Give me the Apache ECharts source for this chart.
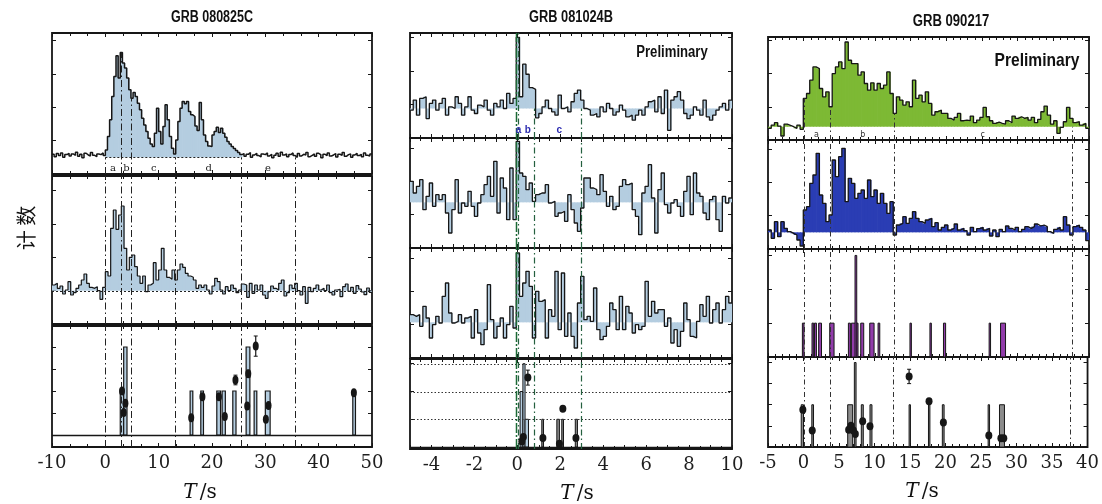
<!DOCTYPE html>
<html>
<head>
<meta charset="utf-8">
<script src="https://cdn.jsdelivr.net/npm/echarts@6/dist/echarts.min.js"></script>
<style>
  html, body { margin: 0; padding: 0; background: #ffffff; }
  #chart { width: 1102px; height: 504px; }
</style>
</head>
<body>
<div id="chart"></div>
<script>
// ===================== GRB 080825C =====================
const c1TopStart = -10, c1TopBin = 0.4, c1TopBase = 100;
const c1TopCounts = [
  118,104,122,110,126,100,116,124,108,120,112,130,106,118,98,124,114,108,128,112,104,120,116,126,110,
  144,224,324,464,584,708,574,728,664,634,574,504,454,488,464,424,384,334,294,254,214,180,164,244,394,
  254,180,284,414,324,224,154,120,204,314,394,434,420,434,374,354,344,288,260,428,324,234,194,168,164,
  234,254,280,248,274,244,220,194,180,164,152,140,128,116,
  122,106,118,128,100,114,124,110,102,120,116,126,108,118,98,112,124,106,130,114,
  120,104,116,126,110,100,122,108,118,114,128,104,112,120,106,124,116,98,118,110,
  126,108,114,122,102,118,112,128,106,116,120,100,114,124,110,118,104,126,112,108,120
];
const c1PulseFirst = 25, c1PulseLast = 88;   // bins of the shaded pulse
const c1PulseBaseFrom = 0, c1PulseBaseTo = 25.4;
const c1MidStart = -10, c1MidBin = 0.5, c1MidBase = 100;
const c1MidCounts = [
  117,122,107,114,90,102,127,87,94,107,117,132,150,122,110,107,112,100,74,110,
  157,144,287,342,284,327,354,227,162,200,207,172,144,122,144,97,117,122,184,132,
  162,227,162,140,134,162,132,162,180,170,152,144,140,132,107,117,110,117,102,90,
  114,137,127,102,90,112,100,117,107,94,102,
  120,117,80,122,92,117,102,117,87,77,97,114,107,102,122,132,84,94,117,107,
  122,100,87,112,62,110,97,107,117,102,107,100,117,94,87,102,104,82,112,120,
  98,110,92,115,105,96,88,108,95
];
const c1Bounds = [0, 2.9, 4.8, 13.1, 25.4, 35.6];
const c1Epochs = ['a', 'b', 'c', 'd', 'e'];
const c1EpochT = [1.44, 3.94, 9.07, 19.4, 30.5];
const c1BarFrom = [2.8, 3.44, 15.9, 17.9, 20.9, 21.9, 23.9, 26.4, 27.9, 30.0, 46.4];
const c1BarTo   = [3.44, 4.06, 16.4, 18.4, 21.6, 22.5, 24.5, 27.1, 28.4, 30.9, 46.9];
const c1BarN    = [1, 2, 1, 1, 1, 1, 1, 2, 1, 1, 1];
const c1DotT   = [3.13, 3.44, 3.76, 16.1, 18.2, 21.3, 22.4, 24.4, 26.6, 26.8, 28.2, 30.1, 30.6, 46.6];
const c1DotE   = [1.0, 0.51, 0.72, 0.39, 0.87, 0.87, 0.42, 1.25, 0.66, 1.39, 2.02, 0.36, 0.67, 0.96];
const c1DotErr = [0, 0, 0, 0, 0, 0, 0, 0.11, 0, 0.08, 0.23, 0, 0, 0];
const c1Ticks = [-10, 0, 10, 20, 30, 40, 50];

// ===================== GRB 081024B =====================
const c2Start = -5, c2Bin = 0.15;
const c2TopBase = 88;
const c2TopCounts = [
  83,113,68,118,123,58,103,113,83,103,118,68,93,88,123,103,68,93,123,83,
  73,98,93,113,83,68,103,93,113,88,133,103,118,
  300,123,220,190,150,145,60,
  73,93,113,88,78,68,128,88,93,78,108,133,143,113,88,83,68,73,63,93,
  78,103,88,68,78,98,83,63,68,53,68,83,68,93,108,113,78,123,73,143,
  23,113,123,138,113,73,58,68,93,83,68,113,63,53,68,83,93,103,83,113
];
const c2MidBase = 137;
const c2MidCounts = [
  200,165,185,205,115,155,195,125,160,145,160,105,45,115,205,105,135,125,170,125,
  95,135,160,190,215,155,260,105,210,180,85,240,85,320,225,215,175,195,140,160,
  165,165,190,135,140,95,105,110,80,160,115,75,50,120,210,210,180,175,160,220,
  170,125,155,115,125,185,205,190,195,115,95,40,165,185,250,150,45,175,225,130,
  105,135,145,125,95,170,215,100,225,165,155,105,85,145,155,85,50,155,135,150
];
const c2LowBase = 107;
const c2LowCounts = [
  130,125,130,95,155,120,60,100,125,105,185,225,135,105,110,130,105,120,125,60,
  145,75,40,85,220,115,60,95,120,60,100,155,90,315,185,225,260,215,60,200,
  170,175,60,145,125,260,85,255,65,135,65,30,165,245,115,125,110,210,85,55,
  65,95,165,145,85,185,85,155,135,75,100,85,95,230,125,170,135,145,145,95,
  120,45,85,35,80,165,115,65,60,110,160,125,185,105,145,165,105,145,185,165
];
const c2Bounds = [-0.05, 0.05, 0.77, 2.98];
const c2Epochs = ['a', 'b', 'c'];
const c2EpochT = [0.05, 0.49, 1.95];
const c2HistFrom = [0.13, 0.26, 0.36];
const c2HistTo   = [0.26, 0.36, 0.52];
const c2HistN    = [2, 3, 1];
const c2BarFrom = [1.14, 1.84, 2.07, 2.70];
const c2BarTo   = [1.22, 1.96, 2.15, 2.80];
const c2BarN    = [1, 1, 1, 1];
const c2DotT   = [0.49, 2.12, 0.21, 0.28, 1.19, 1.96, 2.73];
const c2DotE   = [2.5, 1.38, 0.2, 0.36, 0.33, 0.12, 0.33];
const c2DotErr = [0.27, 0.05, 0, 0, 0, 0, 0];
const c2Levels = [1, 2, 3];
const c2Ticks = [-4, -2, 0, 2, 4, 6, 8, 10];

// ===================== GRB 090217 =====================
const c3Start = -5, c3Bin = 0.45;
const c3TopBase = 40;
const c3TopCounts = [
  35,45,52,42,12,48,44,40,35,45,32,125,140,180,220,215,155,130,145,100,
  200,220,235,215,295,240,230,230,195,205,170,150,172,150,170,155,165,205,140,80,
  130,120,105,115,100,180,125,135,115,145,110,75,85,90,80,80,65,60,68,80,
  58,60,58,72,52,60,68,98,70,58,50,54,50,48,58,52,72,65,70,65,
  68,60,68,52,62,85,102,75,48,58,20,38,55,98,65,52,55,45,50,35
];
const c3MidBase = 50;
const c3MidCounts = [
  57,32,82,37,82,62,52,47,42,27,9,117,127,197,222,287,162,137,82,102,
  267,217,277,302,142,212,197,152,167,177,152,207,157,177,137,167,137,107,142,42,
  72,77,97,77,92,112,92,82,77,87,92,67,79,57,65,72,57,62,75,57,
  62,55,42,65,52,61,65,57,62,39,57,37,59,52,69,62,57,65,52,59,
  67,62,67,75,69,72,67,52,47,59,65,57,97,72,42,67,72,65,57,25
];
const c3Bounds = [0, 3.75, 12.67, 37.55];
const c3Epochs = ['a', 'b', 'c'];
const c3EpochT = [1.79, 8.3, 25.1];
const c3HiFrom = [-0.18, 1.17, 1.51, 2.1, 3.65, 6.27, 6.69, 7.2, 8.0, 9.26, 10.43, 14.9, 17.7, 19.6, 26.0, 27.6];
const c3HiTo   = [0.05, 1.41, 1.79, 2.5, 4.26, 6.55, 7.62, 7.44, 8.42, 9.87, 10.67, 15.1, 17.9, 19.9, 26.2, 28.3];
const c3HiN    = [1, 1, 1, 1, 1, 1, 1, 3, 1, 1, 1, 1, 1, 1, 1, 1];
const c3BarFrom = [-0.32, 1.17, 6.22, 7.16, 8.14, 9.36, 14.87, 17.6, 19.55, 26.0, 27.6];
const c3BarTo   = [0.0, 1.41, 6.92, 7.4, 8.42, 9.64, 15.06, 17.8, 19.8, 26.2, 28.3];
const c3BarN    = [1, 1, 1, 2, 1, 1, 1, 1.1, 1, 1, 1];
const c3DotT   = [-0.09, 1.23, 6.36, 6.69, 7.02, 7.3, 8.33, 9.36, 14.87, 17.68, 19.7, 26.1, 27.8, 28.2];
const c3DotE   = [0.88, 0.39, 0.41, 0.5, 0.39, 0.31, 0.61, 0.49, 1.67, 1.08, 0.58, 0.27, 0.21, 0.21];
const c3DotErr = [0, 0, 0, 0, 0, 0, 0, 0, 0.17, 0, 0, 0, 0, 0];
const c3Ticks = [-5, 0, 5, 10, 15, 20, 25, 30, 35, 40];

// ===================== chart assembly =====================
const INK = '#161616';
const PALE_BLUE = '#b4cde0';
const grids = [], xAxes = [], yAxes = [], series = [];

function panel(cfg) {
  const g = grids.length;
  grids.push({ left: cfg.left, top: cfg.top, width: cfg.width, height: cfg.height,
    show: true, borderColor: INK, borderWidth: 1.8, backgroundColor: 'transparent' });
  const tick = { show: true, inside: true, length: 4, lineStyle: { color: INK, width: 1 } };
  ['bottom', 'top'].forEach((pos, k) => {
    const lab = (k === 0 && cfg.labels) ? {
      show: true, margin: 7, color: '#1e1e1e', fontFamily: 'DejaVu Serif', fontSize: 18,
      showMinLabel: true, showMaxLabel: true,
      formatter: v => { const r = Math.round(v * 1000) / 1000; return cfg.labels.includes(r) ? String(r) : ''; }
    } : { show: false };
    xAxes.push({ gridIndex: g, type: 'value', position: pos, min: cfg.xMin, max: cfg.xMax,
      interval: cfg.xStep, axisLine: { show: false, onZero: false }, splitLine: { show: false },
      axisTick: tick, minorTick: { show: true, splitNumber: cfg.minor, length: 3, lineStyle: { color: INK, width: 1 } },
      axisLabel: lab });
  });
  ['left', 'right'].forEach(pos => {
    yAxes.push({ gridIndex: g, type: 'value', position: pos, min: cfg.yMin, max: cfg.yMax,
      splitNumber: 4, axisLine: { show: false, onZero: false }, splitLine: { show: false },
      axisTick: tick, axisLabel: { show: false } });
  });
  return { x: 2 * g, y: 2 * g, yMin: cfg.yMin, yMax: cfg.yMax };
}

function fillBins(ax, start, bin, counts, base, color, from, to) {
  const data = [];
  for (let i = from; i <= to; i++) data.push([start + i * bin, start + (i + 1) * bin, counts[i]]);
  series.push({ type: 'custom', xAxisIndex: ax.x, yAxisIndex: ax.y, silent: true, clip: true, z: 2,
    data, encode: { x: [0, 1], y: 2 },
    renderItem: (params, api) => {
      const a = api.coord([api.value(0), base]);
      const b = api.coord([api.value(1), api.value(2)]);
      return { type: 'rect', shape: { x: a[0], y: Math.min(a[1], b[1]), width: b[0] - a[0] + 0.7,
        height: Math.abs(a[1] - b[1]) }, style: { fill: color } };
    } });
}

function stepLine(ax, start, bin, counts, width) {
  const data = counts.map((v, i) => [start + i * bin, v]);
  data.push([start + counts.length * bin, counts[counts.length - 1]]);
  series.push({ type: 'line', xAxisIndex: ax.x, yAxisIndex: ax.y, step: 'end', data,
    symbol: 'none', silent: true, z: 4, clip: true, lineStyle: { color: INK, width } });
}

function bars(ax, from, to, n, fill, stroke, lw) {
  series.push({ type: 'custom', xAxisIndex: ax.x, yAxisIndex: ax.y, silent: true, clip: true, z: 3,
    data: from.map((t, i) => [t, to[i], n[i]]), encode: { x: [0, 1], y: 2 },
    renderItem: (params, api) => {
      const a = api.coord([api.value(0), 0]);
      const b = api.coord([api.value(1), api.value(2)]);
      return { type: 'rect', shape: { x: a[0], y: b[1], width: Math.max(1, b[0] - a[0]), height: a[1] - b[1] },
        style: { fill, stroke, lineWidth: lw } };
    } });
}

function dots(ax, ts, es, errs, size) {
  series.push({ type: 'scatter', xAxisIndex: ax.x, yAxisIndex: ax.y, silent: true, z: 6,
    symbol: 'circle', symbolSize: size, itemStyle: { color: INK, opacity: 1 },
    data: ts.map((t, i) => [t, es[i]]) });
  const eb = [];
  ts.forEach((t, i) => { if (errs[i] > 0) eb.push([t, es[i] - errs[i], es[i] + errs[i]]); });
  series.push({ type: 'custom', xAxisIndex: ax.x, yAxisIndex: ax.y, silent: true, z: 6,
    data: eb, encode: { x: 0, y: [1, 2] },
    renderItem: (params, api) => {
      const a = api.coord([api.value(0), api.value(1)]);
      const b = api.coord([api.value(0), api.value(2)]);
      return { type: 'group', children: [
        { type: 'line', shape: { x1: a[0], y1: a[1], x2: b[0], y2: b[1] }, style: { stroke: INK, lineWidth: 1.2 } },
        { type: 'line', shape: { x1: a[0] - 2, y1: a[1], x2: a[0] + 2, y2: a[1] }, style: { stroke: INK, lineWidth: 1 } },
        { type: 'line', shape: { x1: b[0] - 2, y1: b[1], x2: b[0] + 2, y2: b[1] }, style: { stroke: INK, lineWidth: 1 } }
      ] };
    } });
}

// vertical epoch boundaries: each item [t, yFrom, yTo]
function vLines(ax, items, color, dash, width) {
  series.push({ type: 'custom', xAxisIndex: ax.x, yAxisIndex: ax.y, silent: true, clip: true, z: 5,
    data: items, encode: { x: 0, y: [1, 2] },
    renderItem: (params, api) => {
      const a = api.coord([api.value(0), api.value(1)]);
      const b = api.coord([api.value(0), api.value(2)]);
      const x = Math.round(a[0]) + 0.5;
      return { type: 'line', shape: { x1: x, y1: a[1], x2: x, y2: b[1] },
        style: { stroke: color, lineWidth: width, lineDash: dash } };
    } });
}

// horizontal reference lines: each item [tFrom, tTo, y]
function hLines(ax, items, color, dash, width) {
  series.push({ type: 'custom', xAxisIndex: ax.x, yAxisIndex: ax.y, silent: true, clip: true, z: 5,
    data: items, encode: { x: [0, 1], y: 2 },
    renderItem: (params, api) => {
      const a = api.coord([api.value(0), api.value(2)]);
      const b = api.coord([api.value(1), api.value(2)]);
      const y = Math.round(a[1]) + 0.5;
      return { type: 'line', shape: { x1: a[0], y1: y, x2: b[0], y2: y },
        style: { stroke: color, lineWidth: width, lineDash: dash } };
    } });
}

function tags(ax, ts, y, names, font, color) {
  series.push({ type: 'custom', xAxisIndex: ax.x, yAxisIndex: ax.y, silent: true, z: 7,
    data: ts.map((t, i) => [t, y, i]), encode: { x: 0, y: 1 },
    renderItem: (params, api) => {
      const p = api.coord([api.value(0), api.value(1)]);
      return { type: 'text', x: p[0], y: p[1],
        style: { text: names[params.dataIndex], font, fill: color,
          textAlign: 'center', textVerticalAlign: 'middle', align: 'center', verticalAlign: 'middle' } };
    } });
}

// where a boundary crosses the pulse, the line reaches up to the curve
function topFor(start, bin, counts, base, t) {
  const i = Math.min(counts.length - 1, Math.max(0, Math.floor((t - start) / bin + 1e-9)));
  const v = counts[i];
  return v >= 2 * base ? v : base;
}

// ---------- column 1 : GRB 080825C ----------
const DASH1 = [7, 3, 1.5, 3];
const a1 = panel({ left: 52, top: 33, width: 320, height: 141, xMin: -10, xMax: 50, xStep: 10, minor: 3, yMin: 0, yMax: 844 });
const b1 = panel({ left: 52, top: 176, width: 320, height: 148, xMin: -10, xMax: 50, xStep: 10, minor: 3, yMin: 0, yMax: 444 });
const d1 = panel({ left: 52, top: 326, width: 320, height: 121, xMin: -10, xMax: 50, xStep: 10, minor: 3, yMin: -0.273, yMax: 2.477, labels: c1Ticks });

fillBins(a1, c1TopStart, c1TopBin, c1TopCounts, c1TopBase, PALE_BLUE, c1PulseFirst, c1PulseLast);
hLines(a1, [[c1PulseBaseFrom, c1PulseBaseTo, c1TopBase]], '#222', [2, 2], 1);
vLines(a1, c1Bounds.map(t => [t, 0, topFor(c1TopStart, c1TopBin, c1TopCounts, c1TopBase, t)]), '#222', DASH1, 1);
stepLine(a1, c1TopStart, c1TopBin, c1TopCounts, 1.5);
tags(a1, c1EpochT, 34, c1Epochs, '10px "DejaVu Serif"', '#222');

fillBins(b1, c1MidStart, c1MidBin, c1MidCounts, c1MidBase, PALE_BLUE, 0, c1MidCounts.length - 1);
hLines(b1, [[-10, 50, c1MidBase]], '#222', [2, 2], 1);
vLines(b1, c1Bounds.map(t => [t, b1.yMin, b1.yMax]), '#222', DASH1, 1);
stepLine(b1, c1MidStart, c1MidBin, c1MidCounts, 1.2);

hLines(d1, [[-10, 50, 0]], INK, null, 1.4);
vLines(d1, c1Bounds.map(t => [t, d1.yMin, d1.yMax]), '#222', DASH1, 1);
bars(d1, c1BarFrom, c1BarTo, c1BarN, PALE_BLUE, INK, 1.2);
dots(d1, c1DotT, c1DotE, c1DotErr, [6, 9]);

// ---------- column 2 : GRB 081024B ----------
const G2 = '#24603f';
const a2 = panel({ left: 410, top: 33, width: 322, height: 105, xMin: -5, xMax: 10, xStep: 1, minor: 2, yMin: 0, yMax: 313 });
const b2 = panel({ left: 410, top: 138, width: 322, height: 110, xMin: -5, xMax: 10, xStep: 1, minor: 2, yMin: 0, yMax: 330 });
const e2 = panel({ left: 410, top: 248, width: 322, height: 110, xMin: -5, xMax: 10, xStep: 1, minor: 2, yMin: 0, yMax: 330 });
const d2 = panel({ left: 410, top: 359, width: 322, height: 90, xMin: -5, xMax: 10, xStep: 1, minor: 2, yMin: -0.07, yMax: 3.17, labels: c2Ticks });

function c2Lines(ax, counts, base) {
  const items = c2Bounds.map((t, i) => [t, ax.yMin,
    (counts && i >= 2) ? topFor(c2Start, c2Bin, counts, base, t) : ax.yMax]);
  vLines(ax, items.slice(0, 1), '#1c6a36', [10, 2, 2, 2], 1.5);
  vLines(ax, items.slice(1), G2, [6, 3, 1.5, 3], 1.2);
}

fillBins(a2, c2Start, c2Bin, c2TopCounts, c2TopBase, PALE_BLUE, 0, c2TopCounts.length - 1);
c2Lines(a2, c2TopCounts, c2TopBase);
stepLine(a2, c2Start, c2Bin, c2TopCounts, 1.3);
tags(a2, c2EpochT, 23, c2Epochs, 'bold 10px "Liberation Sans"', '#2b2bb0');

fillBins(b2, c2Start, c2Bin, c2MidCounts, c2MidBase, PALE_BLUE, 0, c2MidCounts.length - 1);
c2Lines(b2, null, 0);
stepLine(b2, c2Start, c2Bin, c2MidCounts, 1.3);

fillBins(e2, c2Start, c2Bin, c2LowCounts, c2LowBase, PALE_BLUE, 0, c2LowCounts.length - 1);
c2Lines(e2, null, 0);
stepLine(e2, c2Start, c2Bin, c2LowCounts, 1.3);

hLines(d2, c2Levels.map(v => [-5, 10, v]), '#333', [1.5, 2], 1);
hLines(d2, [[-5, 10, 0]], INK, null, 1.4);
c2Lines(d2, null, 0);
bars(d2, c2HistFrom, c2HistTo, c2HistN, PALE_BLUE, INK, 1);
bars(d2, c2BarFrom, c2BarTo, c2BarN, '#8a8a8a', INK, 1);
dots(d2, c2DotT, c2DotE, c2DotErr, [7, 8]);

// ---------- column 3 : GRB 090217 ----------
const DASH3 = [5, 3, 1.5, 3];
const a3 = panel({ left: 768, top: 37, width: 321, height: 103, xMin: -5, xMax: 40, xStep: 5, minor: 5, yMin: 0, yMax: 310 });
const b3 = panel({ left: 768, top: 140, width: 321, height: 109, xMin: -5, xMax: 40, xStep: 5, minor: 5, yMin: 0, yMax: 327 });
const e3 = panel({ left: 768, top: 249, width: 321, height: 108, xMin: -5, xMax: 40, xStep: 5, minor: 5, yMin: 0, yMax: 3.19 });
const d3 = panel({ left: 768, top: 357, width: 321, height: 90, xMin: -5, xMax: 40, xStep: 5, minor: 5, yMin: 0, yMax: 2.13, labels: c3Ticks });

fillBins(a3, c3Start, c3Bin, c3TopCounts, c3TopBase, '#7db934', 0, c3TopCounts.length - 1);
vLines(a3, c3Bounds.map(t => [t, 0, topFor(c3Start, c3Bin, c3TopCounts, c3TopBase, t)]), '#333', DASH3, 1);
stepLine(a3, c3Start, c3Bin, c3TopCounts, 1.3);
tags(a3, c3EpochT, 15, c3Epochs, '8px "DejaVu Sans"', '#333');

fillBins(b3, c3Start, c3Bin, c3MidCounts, c3MidBase, '#2a3db4', 0, c3MidCounts.length - 1);
vLines(b3, c3Bounds.map(t => [t, b3.yMin, b3.yMax]), '#333', DASH3, 1);
stepLine(b3, c3Start, c3Bin, c3MidCounts, 1.3);

vLines(e3, c3Bounds.map(t => [t, e3.yMin, e3.yMax]), '#333', DASH3, 1);
bars(e3, c3HiFrom, c3HiTo, c3HiN, '#913caa', INK, 1);

vLines(d3, c3Bounds.map(t => [t, d3.yMin, d3.yMax]), '#333', DASH3, 1);
bars(d3, c3BarFrom, c3BarTo, c3BarN, '#8c8c8c', INK, 1);
dots(d3, c3DotT, c3DotE, c3DotErr, [7, 8]);

// ---------- titles and axis captions ----------
function caption(x, y, text, font, sx) {
  return { type: 'text', x, y, scaleX: sx || 1, silent: true,
    style: { text, font, fill: '#111', textAlign: 'center', textVerticalAlign: 'middle', align: 'center', verticalAlign: 'middle' } };
}
function tCaption(x, y) {
  return { type: 'text', x, y, silent: true,
    style: { text: '{i|T}{u|/s}', textAlign: 'center', textVerticalAlign: 'middle', align: 'center', verticalAlign: 'middle',
      rich: { i: { fontFamily: 'DejaVu Serif', fontStyle: 'italic', fontSize: 20, fill: '#111', padding: [0, 3, 0, 0] },
              u: { fontFamily: 'DejaVu Serif', fontSize: 20, fill: '#111' } } } };
}
const graphic = [
  caption(212, 18, 'GRB 080825C', 'bold 16px "Liberation Sans"', 0.78),
  caption(571, 18, 'GRB 081024B', 'bold 16px "Liberation Sans"', 0.8),
  caption(951, 22, 'GRB 090217', 'bold 16px "Liberation Sans"', 0.82),
  caption(672, 53, 'Preliminary', 'bold 16px "Liberation Sans"', 0.82),
  caption(1037, 61, 'Preliminary', 'bold 19px "Liberation Sans"', 0.82),
  Object.assign(caption(26, 228, '计 数', '20px "Noto Sans CJK SC"', 1), { rotation: Math.PI / 2 }),
  tCaption(200, 493),
  tCaption(577, 494),
  tCaption(922, 492)
];

const chart = echarts.init(document.getElementById('chart'), null, { renderer: 'canvas' });
chart.setOption({
  animation: false,
  backgroundColor: '#ffffff',
  grid: grids,
  xAxis: xAxes,
  yAxis: yAxes,
  series,
  graphic
});
</script>
</body>
</html>
